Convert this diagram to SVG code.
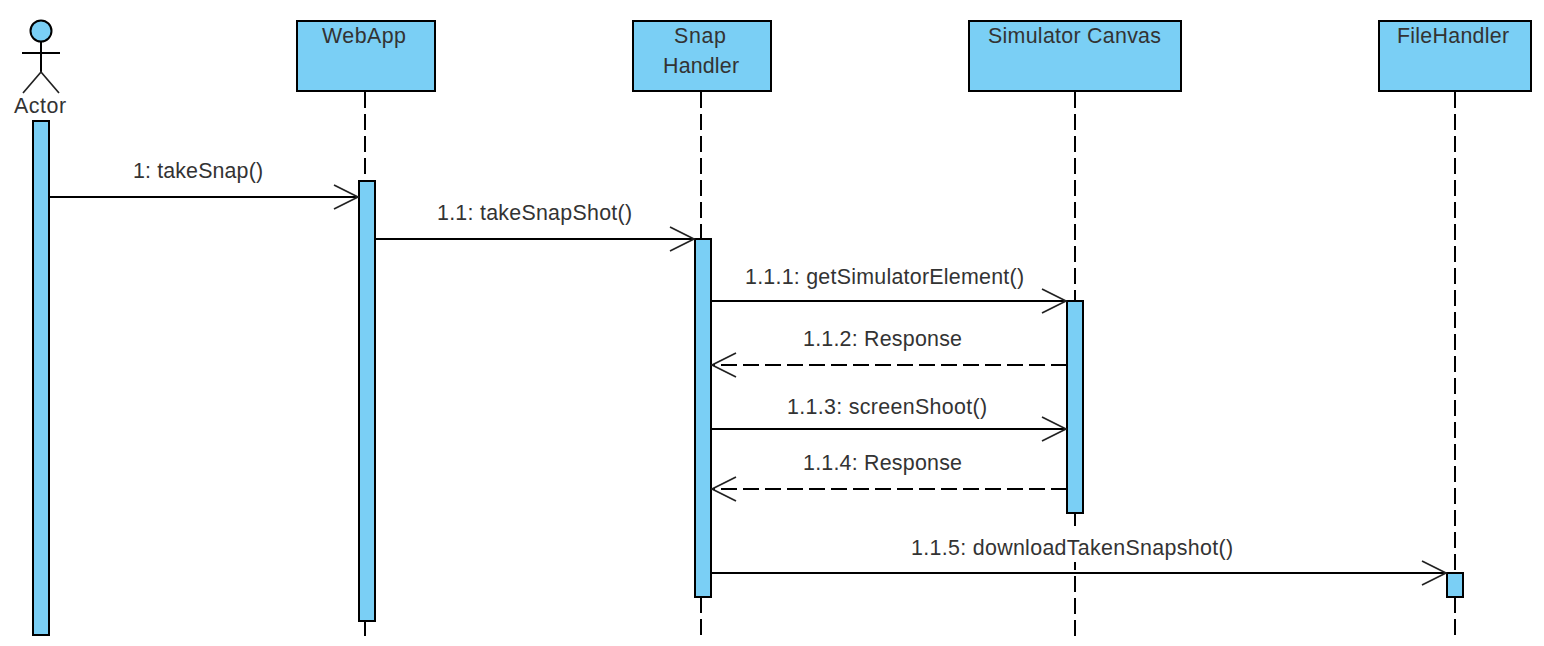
<svg xmlns="http://www.w3.org/2000/svg" width="1544" height="646" viewBox="0 0 1544 646">
<style>
text{font-family:"Liberation Sans",Arial,sans-serif;font-size:21.4px;fill:#333;text-anchor:start}
.box{fill:#7acff5;stroke:#000;stroke-width:2}
.life{fill:none;stroke:#000;stroke-width:2;stroke-dasharray:16 6}
.msg{fill:none;stroke:#000;stroke-width:2}
.ret{fill:none;stroke:#000;stroke-width:2;stroke-dasharray:16 6}
.head{fill:none;stroke:#222;stroke-width:1.7}
.fig{fill:none;stroke:#000;stroke-width:2}
.leg{fill:none;stroke:#222;stroke-width:1.7}
</style>
<rect width="1544" height="646" fill="#fff"/>
<g id="lifelines">
<path class="life" d="M365 92V181M365 621V636"/>
<path class="life" d="M701 92V239M701 597V636"/>
<path class="life" d="M1075 92V301"/>
<path class="life" d="M1075 513V532" stroke-dashoffset="3"/>
<path class="life" d="M1075 562V636" stroke-dashoffset="8"/>
<path class="life" d="M1455 92V573M1455 597V636"/>
</g>
<g id="actor">
<circle class="box" cx="41" cy="31" r="10.5"/>
<path class="fig" d="M41 42V72M22 53H60"/>
<path class="leg" d="M23 93L41 72L59 93"/>
<text x="14" y="113" textLength="52">Actor</text>
<rect class="box" x="33" y="121" width="16" height="514"/>
</g>
<g id="webapp">
<rect class="box" x="297" y="21" width="138" height="70"/>
<text x="322" y="43" textLength="84">WebApp</text>
<rect class="box" x="359" y="181" width="16" height="440"/>
</g>
<g id="snap-handler">
<rect class="box" x="633" y="21" width="138" height="70"/>
<text x="674" y="43" textLength="52">Snap</text>
<text x="663" y="73" textLength="76">Handler</text>
<rect class="box" x="695" y="239" width="16" height="358"/>
</g>
<g id="simulator-canvas">
<rect class="box" x="969" y="21" width="212" height="70"/>
<text x="988" y="43" textLength="173">Simulator Canvas</text>
<rect class="box" x="1067" y="301" width="16" height="212"/>
</g>
<g id="file-handler">
<rect class="box" x="1379" y="21" width="152" height="70"/>
<text x="1397" y="43" textLength="112">FileHandler</text>
<rect class="box" x="1447" y="573" width="16" height="24"/>
</g>
<g id="connectors">
<path class="msg" d="M49 197H358"/><path class="head" d="M334 185L358 197L334 209"/>
<path class="msg" d="M375 239H694"/><path class="head" d="M670 227L694 239L670 251"/>
<path class="msg" d="M711 301H1066"/><path class="head" d="M1042 289L1066 301L1042 313"/>
<path class="ret" d="M1067 365H712"/><path class="head" d="M736 353L712 365L736 377"/>
<path class="msg" d="M711 429H1066"/><path class="head" d="M1042 417L1066 429L1042 441"/>
<path class="ret" d="M1067 489H712"/><path class="head" d="M736 477L712 489L736 501"/>
<path class="msg" d="M711 573H1446"/><path class="head" d="M1422 561L1446 573L1422 585"/>
</g>
<g id="labels">
<text x="133" y="178" textLength="130">1: takeSnap()</text>
<text x="437" y="220" textLength="195">1.1: takeSnapShot()</text>
<text x="745" y="284" textLength="279">1.1.1: getSimulatorElement()</text>
<text x="803" y="346" textLength="159">1.1.2: Response</text>
<text x="787" y="414" textLength="200">1.1.3: screenShoot()</text>
<text x="803" y="470" textLength="159">1.1.4: Response</text>
<text x="911" y="555" textLength="322">1.1.5: downloadTakenSnapshot()</text>
</g>
</svg>
